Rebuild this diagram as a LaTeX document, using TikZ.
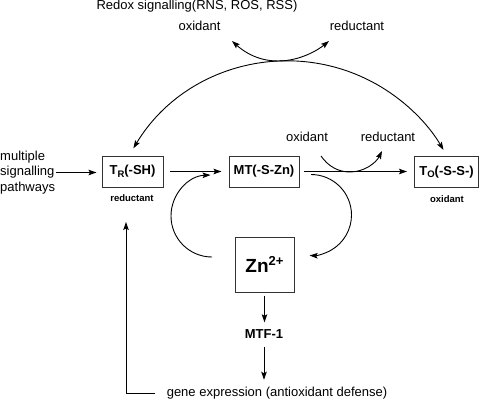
\documentclass[tikz,border=0pt]{standalone}
\usepackage{fontspec}
\setmainfont{Liberation Sans}
\usetikzlibrary{arrows.meta}
\begin{document}
\begin{tikzpicture}[x=1pt,y=-1pt,
  every node/.style={inner sep=0pt, font=\fontsize{13}{15.5}\selectfont},
  boxnode/.style={draw=black!80, line width=1pt, font=\fontsize{13}{15.5}\selectfont\bfseries},
  small/.style={font=\fontsize{9.5}{11}\selectfont\bfseries},
  tip/.style={-{Stealth[length=8pt,width=5.5pt,inset=1.5pt]}},
  conn/.style={line width=0.9pt, tip},
  both/.style={line width=0.9pt, {Stealth[length=8pt,width=5.5pt,inset=1.5pt]}-{Stealth[length=8pt,width=5.5pt,inset=1.5pt]}}
]
\useasboundingbox (0,0) rectangle (480,400);

% boxes
\node[boxnode, minimum width=61pt, minimum height=31pt] (TR) at (132.5,171.5)
  {T\raisebox{-2.5pt}{\fontsize{9.5}{9.5}\selectfont R}(-SH)};
\node[boxnode, minimum width=70pt, minimum height=31pt] (MT) at (264,171.5) {MT(-S-Zn)};
\node[boxnode, minimum width=64pt, minimum height=31pt] (TO) at (446.5,172)
  {T\raisebox{-2.5pt}{\fontsize{9.5}{9.5}\selectfont O}(-S-S-)};
\node[boxnode, minimum width=59pt, minimum height=55pt, font=\fontsize{19}{19}\selectfont\bfseries] (Zn) at (264.5,264.5)
  {Zn\raisebox{7pt}{\fontsize{13}{13}\selectfont\bfseries 2+}};

% texts
\node (redox) at (197,6) {Redox signalling(RNS, ROS, RSS)};
\node (oxT) at (199.5,26) {oxidant};
\node (redT) at (357,26) {reductant};
\node (oxM) at (307,137) {oxidant};
\node (redM) at (388,137) {reductant};
\node[small] (redL) at (132,198) {reductant};
\node[small] (oxL) at (447,199) {oxidant};
\node[font=\fontsize{13}{15.5}\selectfont\bfseries] (MTF) at (264,334) {MTF-1};
\node (gene) at (277,393) {gene expression (antioxidant defense)};
\node[align=left, anchor=west] (msp) at (0,172.5) {multiple\\signalling\\pathways};

% straight connectors
\draw[conn, shorten <=1pt, shorten >=5pt] (msp.east) -- (msp.east -| TR.west);
\draw[conn, shorten <=6pt, shorten >=7pt] (TR.east) -- (MT.west);
\draw[conn, shorten <=4pt, shorten >=7pt] (MT.east) -- (MT.east -| TO.west);
\draw[conn, shorten <=3pt, shorten >=7pt] (Zn.south) -- (Zn.south |- MTF.north);
\draw[conn, shorten <=8pt, shorten >=7pt] (MTF.south) -- (MTF.south |- gene.north);

% feedback
\coordinate (fbS) at (155,393);
\coordinate (fbC) at (126,393);
\coordinate (fbT) at (126,222);
\draw[conn] (fbS) -- (fbC) -- (fbT);

% big arc
\coordinate (arcL) at (133.4,148.3);
\draw[both] (arcL) arc[start angle=-148.9, end angle=-30.5, radius=180.5];

% top small arc
\coordinate (tL) at (232,41);
\coordinate (tM) at (278,61);
\coordinate (tR) at (329,41);
\draw[both] (tL) .. controls (242,50) and (256,61) .. (tM) .. controls (300,61) and (318,50) .. (tR);

% middle small arc
\coordinate (mS) at (321,156);
\coordinate (mM) at (350,172);
\coordinate (mE) at (382,151);
\draw[conn] (mS) .. controls (328,166) and (338,172) .. (mM) .. controls (364,172) and (376,163) .. (mE);

% loops
\coordinate (lS) at (212,257);
\draw[conn] (lS) arc[start angle=90, end angle=268, radius=41];
\coordinate (rS) at (311,174.5);
\draw[conn] (rS) arc[start angle=-90, end angle=92, radius=40.5];
\end{tikzpicture}
\end{document}
